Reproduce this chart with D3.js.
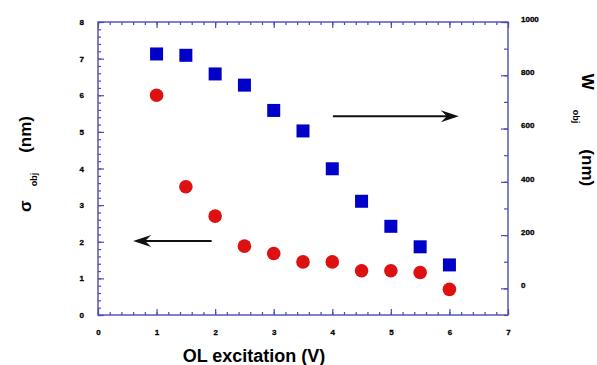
<!DOCTYPE html>
<html>
<head>
<meta charset="utf-8">
<script src="https://cdn.jsdelivr.net/npm/d3@7"></script>
<style>
  body { margin: 0; background: #fff; }
  text { font-family: "Liberation Sans", Arial, sans-serif; }
</style>
</head>
<body>
<svg width="597" height="365"></svg>
<script>
// OL excitation (V)
const voltage = [1, 1.5, 2, 2.5, 3, 3.5, 4, 4.5, 5, 5.5, 6];
// sigma_obj (nm), left axis
const sigma = [6.0, 3.5, 2.7, 1.88, 1.68, 1.45, 1.45, 1.21, 1.21, 1.16, 0.70];
// W_obj (nm), right axis
const wobj = [880, 875, 805, 763, 668, 591, 449, 327, 233, 156, 88];

const xTicks = [0, 1, 2, 3, 4, 5, 6, 7];
const yLeftTicks = [0, 1, 2, 3, 4, 5, 6, 7, 8];
const yRightTicks = [0, 200, 400, 600, 800, 1000];

const svg = d3.select('svg');
const margin = { top: 22, right: 89, bottom: 50, left: 98 };
const width = 597, height = 365;
const frameCol = '#4a4ab8';

const x = d3.scaleLinear().domain([0, 7]).range([margin.left, width - margin.right]);
const yL = d3.scaleLinear().domain([0, 8]).range([height - margin.bottom, margin.top]);
const yR = d3.scaleLinear().domain([-100, 1000]).range([height - margin.bottom, margin.top]);

const range = (a, b, s) => d3.range(Math.round((b - a) / s) + 1).map(i => +(a + i * s).toFixed(4));

function styleAxis(g) {
  g.select('.domain').remove();
  g.selectAll('line').attr('stroke', frameCol).attr('stroke-width', 1.2);
  g.selectAll('text')
    .attr('font-size', 8)
    .attr('font-weight', 'bold')
    .attr('fill', '#000')
    .attr('stroke', '#000').attr('stroke-width', 0.3)
    .style('font-family', '"Liberation Sans", Arial, sans-serif');
}

const bottomY = height - margin.bottom;

// minor ticks
svg.append('g').attr('transform', `translate(0,${bottomY})`)
  .call(d3.axisBottom(x).tickValues(range(0, 7, 0.2)).tickSize(-3).tickFormat(''))
  .call(styleAxis);
svg.append('g').attr('transform', `translate(0,${margin.top})`)
  .call(d3.axisTop(x).tickValues(range(0, 7, 0.2)).tickSize(-3).tickFormat(''))
  .call(styleAxis);
svg.append('g').attr('transform', `translate(${margin.left},0)`)
  .call(d3.axisLeft(yL).tickValues(range(0, 8, 0.2)).tickSize(-3).tickFormat(''))
  .call(styleAxis);
svg.append('g').attr('transform', `translate(${width - margin.right},0)`)
  .call(d3.axisRight(yR).tickValues(range(-100, 1000, 100)).tickSize(-4).tickFormat(''))
  .call(styleAxis);

// major ticks + labels
svg.append('g').attr('transform', `translate(0,${bottomY})`)
  .call(d3.axisBottom(x).tickValues(xTicks).tickSize(-6).tickPadding(14).tickFormat(d3.format('d')))
  .call(styleAxis);
svg.append('g').attr('transform', `translate(0,${margin.top})`)
  .call(d3.axisTop(x).tickValues(xTicks).tickSize(-6).tickFormat(''))
  .call(styleAxis);
svg.append('g').attr('transform', `translate(${margin.left},0)`)
  .call(d3.axisLeft(yL).tickValues(yLeftTicks).tickSize(-6).tickPadding(14).tickFormat(d3.format('d')))
  .call(styleAxis);
svg.append('g').attr('transform', `translate(${width - margin.right},0)`)
  .call(d3.axisRight(yR).tickValues(yRightTicks).tickSize(-7).tickPadding(13).tickFormat(d3.format('d')))
  .call(styleAxis)
  .selectAll('text').attr('dy', '-0.1em');

// frame
svg.append('rect')
  .attr('x', margin.left).attr('y', margin.top)
  .attr('width', width - margin.left - margin.right)
  .attr('height', height - margin.top - margin.bottom)
  .attr('fill', 'none').attr('stroke', frameCol).attr('stroke-width', 1.4);

// data
svg.append('g').selectAll('rect')
  .data(voltage.map((v, i) => ({ v, w: wobj[i] })))
  .join('rect')
  .attr('x', d => x(d.v) - 6.5)
  .attr('y', d => yR(d.w) - 6.5)
  .attr('width', 13).attr('height', 13)
  .attr('fill', '#0000c8');

svg.append('g').selectAll('circle')
  .data(voltage.map((v, i) => ({ v, s: sigma[i] })))
  .join('circle')
  .attr('cx', d => x(d.v))
  .attr('cy', d => yL(d.s))
  .attr('r', 6.8)
  .attr('fill', '#dd1111');

// arrows
function arrow(x1, x2, yv) {
  const y = yL(yv);
  const dir = Math.sign(x2 - x1);
  svg.append('line')
    .attr('x1', x(x1)).attr('x2', x(x2) - dir * 4)
    .attr('y1', y).attr('y2', y)
    .attr('stroke', '#111').attr('stroke-width', 2);
  const tx = x(x2);
  svg.append('path')
    .attr('d', `M${tx},${y} L${tx - dir * 18},${y - 6} L${tx - dir * 12},${y} L${tx - dir * 18},${y + 6} Z`)
    .attr('fill', '#111');
}
arrow(1.94, 0.6, 2.02);
arrow(4.01, 6.16, 5.43);

// axis titles
svg.append('text')
  .attr('x', (x(0) + x(7)) / 2 - 49).attr('y', 362)
  .attr('text-anchor', 'middle')
  .attr('font-size', 18).attr('font-weight', 'bold')
  .text('OL excitation (V)');

const lt = svg.append('text')
  .attr('transform', 'translate(31,164) rotate(-90)')
  .attr('text-anchor', 'middle')
  .attr('font-size', 17).attr('font-weight', 'bold');
lt.append('tspan').text('σ');
lt.append('tspan').attr('font-size', 9).attr('dx', 14).attr('dy', 6).text('obj');
lt.append('tspan').attr('dx', 20).attr('dy', -6).text('(nm)');

const rt = svg.append('text')
  .attr('transform', 'translate(582,130) rotate(90)')
  .attr('text-anchor', 'middle')
  .attr('font-size', 17).attr('font-weight', 'bold');
rt.append('tspan').text('W');
rt.append('tspan').attr('font-size', 9).attr('dx', 20).attr('dy', 9).text('obj');
rt.append('tspan').attr('dx', 26).attr('dy', -9).text('(nm)');
</script>
</body>
</html>
